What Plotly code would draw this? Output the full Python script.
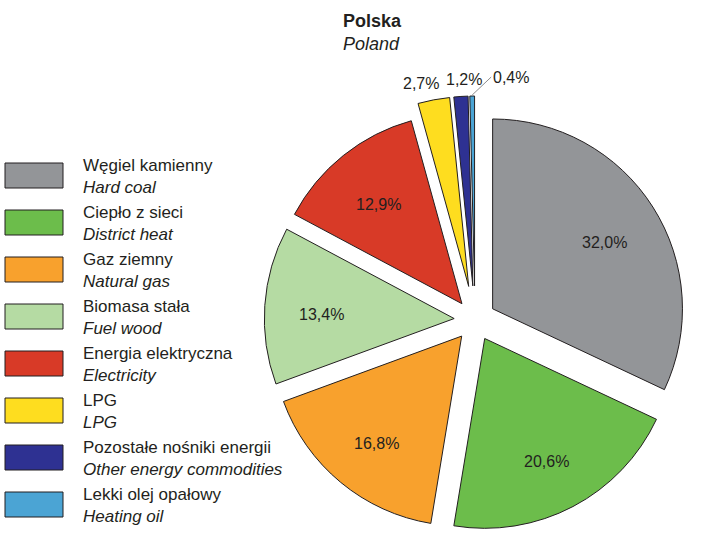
import math
import plotly.graph_objects as go

W, H = 703, 544

labels_pl = ["Węgiel kamienny", "Ciepło z sieci", "Gaz ziemny", "Biomasa stała",
             "Energia elektryczna", "LPG", "Pozostałe nośniki energii", "Lekki olej opałowy"]
labels_en = ["Hard coal", "District heat", "Natural gas", "Fuel wood",
             "Electricity", "LPG", "Other energy commodities", "Heating oil"]
values = [32.0, 20.6, 16.8, 13.4, 12.9, 2.7, 1.2, 0.4]
colors = ["#939598", "#6cbd4b", "#f8a12d", "#b5dba3", "#d83a27", "#fedd1f", "#2e3192", "#4ba4d4"]
pulls = [0.11, 0.11, 0.11, 0.11, 0.11, 0.18, 0.18, 0.18]

FONT = "Liberation Sans, Arial, sans-serif"
TXT = "#231f20"

# pie placement (layout)
dom_x = [251 / W, 699 / W]
dom_y = [0, 448 / H]

fig = go.Figure()
fig.add_trace(go.Pie(
    labels=labels_en, values=values, sort=False, direction="clockwise", rotation=0,
    marker=dict(colors=colors, line=dict(color=TXT, width=1)),
    pull=pulls, textinfo="none",
    domain=dict(x=dom_x, y=dom_y),
    showlegend=False, hoverinfo="label+percent",
))

# geometry derived from the domain, as plotly computes it
rx = W * (dom_x[1] - dom_x[0]) / 2
ry = H * (dom_y[1] - dom_y[0]) / 2
r = min(rx, ry) / (1 + max(pulls))
cx = W * (dom_x[0] + dom_x[1]) / 2
cy = H * (1 - dom_y[0]) - ry  # from top

annots = []
total = sum(values)
cum = 0.0
small_shift = {2.7: -9, 1.2: 4}
for i, v in enumerate(values):
    mid = 2 * math.pi * (cum + v / 2) / total
    cum += v
    dx, dy = math.sin(mid), -math.cos(mid)
    txt = f"{v:.1f}".replace(".", ",") + "%"
    if v >= 5:
        dist = (pulls[i] + 0.70) * r
        px, py = cx + dist * dx, cy + dist * dy
        annots.append(dict(xref="paper", yref="paper", x=px / W, y=1 - py / H,
                           text=txt, showarrow=False, xanchor="center", yanchor="middle",
                           yshift=-5,
                           font=dict(family=FONT, size=16, color=TXT)))
    elif v >= 1:
        dist = (1 + pulls[i]) * r + 18
        px, py = cx + dist * dx, cy + dist * dy
        annots.append(dict(xref="paper", yref="paper", x=px / W, y=1 - py / H,
                           text=txt, showarrow=False, xanchor="center", yanchor="middle",
                           xshift=small_shift.get(v, 0), yshift=-1,
                           font=dict(family=FONT, size=16, color=TXT)))
    else:
        dist = (1 + pulls[i]) * r + 1
        px, py = cx + dist * dx, cy + dist * dy
        annots.append(dict(xref="paper", yref="paper", x=px / W, y=1 - py / H,
                           text=txt, showarrow=True, arrowhead=0, arrowwidth=1,
                           arrowcolor="#8c8c8c", ax=19, ay=-18, xanchor="left",
                           yanchor="middle",
                           font=dict(family=FONT, size=16, color=TXT)))

# custom legend
shapes = []
for i, (pl, en, c) in enumerate(zip(labels_pl, labels_en, colors)):
    yc = 175.5 + 47 * i
    shapes.append(dict(type="rect", xref="paper", yref="paper",
                       x0=5 / W, x1=63 / W, y0=1 - (yc - 12.5) / H, y1=1 - (yc + 12.5) / H,
                       fillcolor=c, line=dict(color=TXT, width=1)))
    annots.append(dict(xref="paper", yref="paper", x=81 / W, y=1 - (yc + 1) / H,
                       xanchor="left", yanchor="middle", align="left", showarrow=False,
                       text=f"{pl}<br><i>{en}</i>",
                       font=dict(family=FONT, size=17, color=TXT)))

annots.append(dict(xref="paper", yref="paper", x=372 / W, y=1 - 9 / H,
                   xanchor="center", yanchor="top", align="left", showarrow=False,
                   text="<b>Polska</b><br><i>Poland</i>",
                   font=dict(family=FONT, size=18, color=TXT)))

fig.update_layout(width=W, height=H,
                  margin=dict(l=0, r=0, t=0, b=0, pad=0, autoexpand=False),
                  paper_bgcolor="white", plot_bgcolor="white",
                  shapes=shapes, annotations=annots)

fig.write_html("out.html")
